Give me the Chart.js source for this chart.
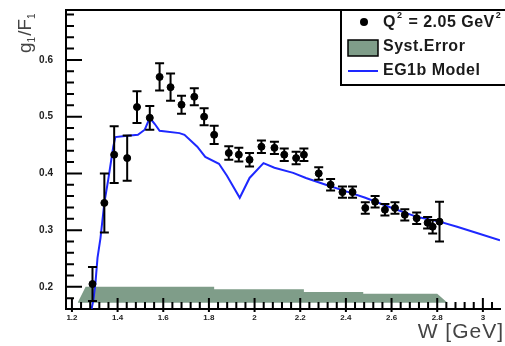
<!DOCTYPE html>
<html>
<head>
<meta charset="utf-8">
<script src="https://cdn.jsdelivr.net/npm/chart.js@4.4.1/dist/chart.umd.min.js"></script>
<style>
html, body { margin: 0; padding: 0; background: #fff; }
#wrap { width: 505px; height: 346px; }
</style>
</head>
<body>
<div id="wrap"><canvas id="g1f1Chart" width="505" height="346"></canvas></div>
<script>
// data
const dataW = [1.29, 1.342, 1.385, 1.442, 1.485, 1.541, 1.584, 1.632, 1.68, 1.736, 1.779, 1.823,
    1.887, 1.931, 1.978, 2.03, 2.087, 2.13, 2.182, 2.216, 2.281, 2.333, 2.385, 2.429,
    2.485, 2.528, 2.571, 2.615, 2.658, 2.71, 2.758, 2.78, 2.81];
const dataG1F1 = [0.205, 0.348, 0.433, 0.427, 0.517, 0.498, 0.57, 0.552, 0.521, 0.535, 0.5, 0.468,
    0.436, 0.433, 0.424, 0.447, 0.445, 0.433, 0.427, 0.433, 0.4, 0.38, 0.367, 0.367,
    0.339, 0.35, 0.336, 0.339, 0.327, 0.321, 0.313, 0.306, 0.315];
const dataErr = [0.03, 0.052, 0.05, 0.04, 0.028, 0.021, 0.024, 0.024, 0.016, 0.015, 0.015, 0.016,
    0.012, 0.012, 0.012, 0.011, 0.011, 0.011, 0.011, 0.011, 0.011, 0.01, 0.01, 0.01,
    0.01, 0.01, 0.01, 0.01, 0.01, 0.01, 0.01, 0.012, 0.035];

const modelW = [1.286, 1.294, 1.303, 1.312, 1.325, 1.342, 1.359, 1.381, 1.39, 1.433, 1.489, 1.519,
    1.541, 1.563, 1.584, 1.671, 1.693, 1.749, 1.784, 1.844, 1.879, 1.935, 1.978, 2.039,
    2.087, 2.169, 2.225, 2.312, 2.411, 2.485, 2.602, 2.714, 2.81, 2.887, 2.974, 3.075];
const modelG1F1 = [0.161, 0.177, 0.207, 0.251, 0.286, 0.348, 0.389, 0.447, 0.464, 0.466, 0.468, 0.477,
    0.498, 0.487, 0.475, 0.471, 0.468, 0.447, 0.429, 0.417, 0.396, 0.357, 0.392, 0.418,
    0.41, 0.401, 0.392, 0.38, 0.367, 0.357, 0.339, 0.323, 0.315, 0.306, 0.295, 0.282];

const systW = [1.225, 1.26, 1.823, 1.823, 2.216, 2.216, 2.476, 2.476, 2.80, 2.845];
const systTop = [0.172, 0.2, 0.2, 0.196, 0.196, 0.191, 0.191, 0.188, 0.188, 0.172];
const systBottom = 0.172;

const xTicks = [1.2, 1.4, 1.6, 1.8, 2.0, 2.2, 2.4, 2.6, 2.8, 3.0];
const yTicks = [0.2, 0.3, 0.4, 0.5, 0.6];

const blue = 'rgb(30,40,255)';
const green = '#7f9d89';

// ROOT style inner ticks, error bars, frame, titles and legend
const rootStyle = {
    id: 'rootStyle',
    afterDatasetsDraw(chart) {
        const ctx = chart.ctx;
        const xs = chart.scales.x, ys = chart.scales.y;
        const area = chart.chartArea;
        ctx.save();
        // error bars
        ctx.strokeStyle = '#000';
        ctx.lineWidth = 2;
        dataW.forEach((w, i) => {
            const px = xs.getPixelForValue(w);
            const top = ys.getPixelForValue(dataG1F1[i] + dataErr[i]);
            const bot = ys.getPixelForValue(dataG1F1[i] - dataErr[i]);
            ctx.beginPath();
            ctx.moveTo(px, top); ctx.lineTo(px, bot);
            ctx.moveTo(px - 4.5, top); ctx.lineTo(px + 4.5, top);
            ctx.moveTo(px - 4.5, bot); ctx.lineTo(px + 4.5, bot);
            ctx.stroke();
        });
        // ticks
        ctx.lineWidth = 2;
        ctx.beginPath();
        for (let k = 0; k <= 26; k++) {
            const v = 0.16 + k * 0.02;
            if (v < ys.min || v > ys.max) continue;
            const py = ys.getPixelForValue(v);
            const major = Math.abs((v * 10) - Math.round(v * 10)) < 1e-6;
            ctx.moveTo(area.left, py); ctx.lineTo(area.left + (major ? 16 : 8), py);
        }
        for (let k = 0; k <= 50; k++) {
            const v = 1.16 + k * 0.04;
            if (v < xs.min || v > xs.max) continue;
            const px = xs.getPixelForValue(v);
            const major = Math.abs((v * 5) - Math.round(v * 5)) < 1e-6;
            ctx.moveTo(px, area.bottom + (major ? 3 : 0)); ctx.lineTo(px, area.bottom - (major ? 11 : 7));
        }
        ctx.stroke();
        // top frame
        ctx.beginPath();
        ctx.moveTo(area.left, area.top); ctx.lineTo(area.right, area.top);
        ctx.stroke();

        // y title g1/F1 (rotated)
        ctx.fillStyle = '#444';
        ctx.translate(31, 53);
        ctx.rotate(-Math.PI / 2);
        ctx.textBaseline = 'alphabetic';
        ctx.textAlign = 'left';
        let x = 0;
        ctx.font = '19px "Liberation Sans", Arial, sans-serif';
        ctx.fillText('g', x, 0); x += ctx.measureText('g').width;
        ctx.font = '10px "Liberation Sans", Arial, sans-serif';
        ctx.fillText('1', x, 4); x += ctx.measureText('1').width + 1;
        ctx.font = '19px "Liberation Sans", Arial, sans-serif';
        ctx.fillText('/F', x, 0); x += ctx.measureText('/F').width;
        ctx.font = '10px "Liberation Sans", Arial, sans-serif';
        ctx.fillText('1', x, 4);
        ctx.restore();

        // x title
        ctx.save();
        ctx.fillStyle = '#444';
        ctx.font = '21px "Liberation Sans", Arial, sans-serif';
        ctx.letterSpacing = '1px';
        ctx.textAlign = 'right';
        ctx.textBaseline = 'alphabetic';
        ctx.fillText('W [GeV]', 504, 338);
        ctx.restore();

        // legend box
        ctx.save();
        ctx.fillStyle = '#fff';
        ctx.fillRect(341, 10, 170, 75);
        ctx.strokeStyle = '#000';
        ctx.lineWidth = 2;
        ctx.strokeRect(341, 10, 170, 75);
        ctx.fillStyle = '#000';
        ctx.beginPath();
        ctx.arc(364, 22, 4, 0, Math.PI * 2);
        ctx.fill();
        ctx.fillStyle = green;
        ctx.fillRect(348, 40, 30, 16);
        ctx.lineWidth = 1.5;
        ctx.strokeRect(348, 40, 30, 16);
        ctx.strokeStyle = blue;
        ctx.lineWidth = 2;
        ctx.beginPath();
        ctx.moveTo(348, 71); ctx.lineTo(378, 71);
        ctx.stroke();
        ctx.fillStyle = '#1a1a1a';
        ctx.textAlign = 'left';
        ctx.textBaseline = 'middle';
        ctx.letterSpacing = '0.5px';
        const bold = 'bold 16px "Liberation Sans", Arial, sans-serif';
        const boldSm = 'bold 9px "Liberation Sans", Arial, sans-serif';
        ctx.font = bold;
        let lx = 383;
        ctx.fillText('Q', lx, 23); lx += ctx.measureText('Q').width;
        ctx.font = boldSm;
        ctx.fillText('2', lx + 1, 16); lx += ctx.measureText('2').width + 2;
        ctx.font = bold;
        const mid = ' = 2.05 GeV';
        ctx.fillText(mid, lx, 23); lx += ctx.measureText(mid).width;
        ctx.font = boldSm;
        ctx.fillText('2', lx + 1, 16);
        ctx.font = bold;
        ctx.fillText('Syst.Error', 383, 47);
        ctx.fillText('EG1b Model', 383, 71);
        ctx.restore();
    }
};

const ctx = document.getElementById('g1f1Chart').getContext('2d');
new Chart(ctx, {
    type: 'scatter',
    data: {
        datasets: [
            {
                label: 'Q2 = 2.05 GeV2',
                data: dataW.map((w, i) => ({ x: w, y: dataG1F1[i] })),
                backgroundColor: '#000',
                borderColor: '#000',
                pointRadius: 3.5,
                showLine: false,
                order: 1
            },
            {
                label: 'EG1b Model',
                data: modelW.map((w, i) => ({ x: w, y: modelG1F1[i] })),
                borderColor: blue,
                borderWidth: 2,
                pointRadius: 0,
                showLine: true,
                tension: 0,
                order: 2
            },
            {
                label: 'Syst.Error',
                data: systW.map((w, i) => ({ x: w, y: systTop[i] })),
                borderWidth: 0,
                borderColor: green,
                backgroundColor: green,
                pointRadius: 0,
                showLine: true,
                fill: '+1',
                order: 3
            },
            {
                label: 'syst base',
                data: systW.map(w => ({ x: w, y: systBottom })),
                borderWidth: 0,
                pointRadius: 0,
                showLine: true,
                order: 4
            }
        ]
    },
    options: {
        responsive: false,
        animation: false,
        devicePixelRatio: 1,
        layout: { padding: { top: 10, left: 0, right: 0, bottom: 0 } },
        plugins: { legend: { display: false }, tooltip: { enabled: false } },
        scales: {
            x: {
                type: 'linear',
                min: 1.174,
                max: 3.075,
                grid: { display: false, drawTicks: false },
                border: { display: true, color: '#000', width: 2 },
                afterBuildTicks: s => { s.ticks = xTicks.map(v => ({ value: v })); },
                afterFit: s => { s.height = 37; s.paddingLeft = 0; s.paddingRight = 0; },
                ticks: {
                    padding: 4,
                    autoSkip: false,
                    maxRotation: 0,
                    color: '#222',
                    font: { size: 8, weight: 'bold', family: '"Liberation Sans", Arial, sans-serif' },
                    callback: v => String(Number(v.toFixed(1)))
                }
            },
            y: {
                type: 'linear',
                min: 0.161,
                max: 0.688,
                grid: { display: false, drawTicks: false },
                border: { display: true, color: '#000', width: 2 },
                afterBuildTicks: s => { s.ticks = yTicks.map(v => ({ value: v })); },
                afterFit: s => { s.width = 66; s.paddingTop = 0; s.paddingBottom = 0; },
                ticks: {
                    padding: 13,
                    color: '#222',
                    font: { size: 10, weight: 'bold', family: '"Liberation Sans", Arial, sans-serif' },
                    callback: v => v.toFixed(1)
                }
            }
        }
    },
    plugins: [rootStyle]
});
</script>
</body>
</html>
